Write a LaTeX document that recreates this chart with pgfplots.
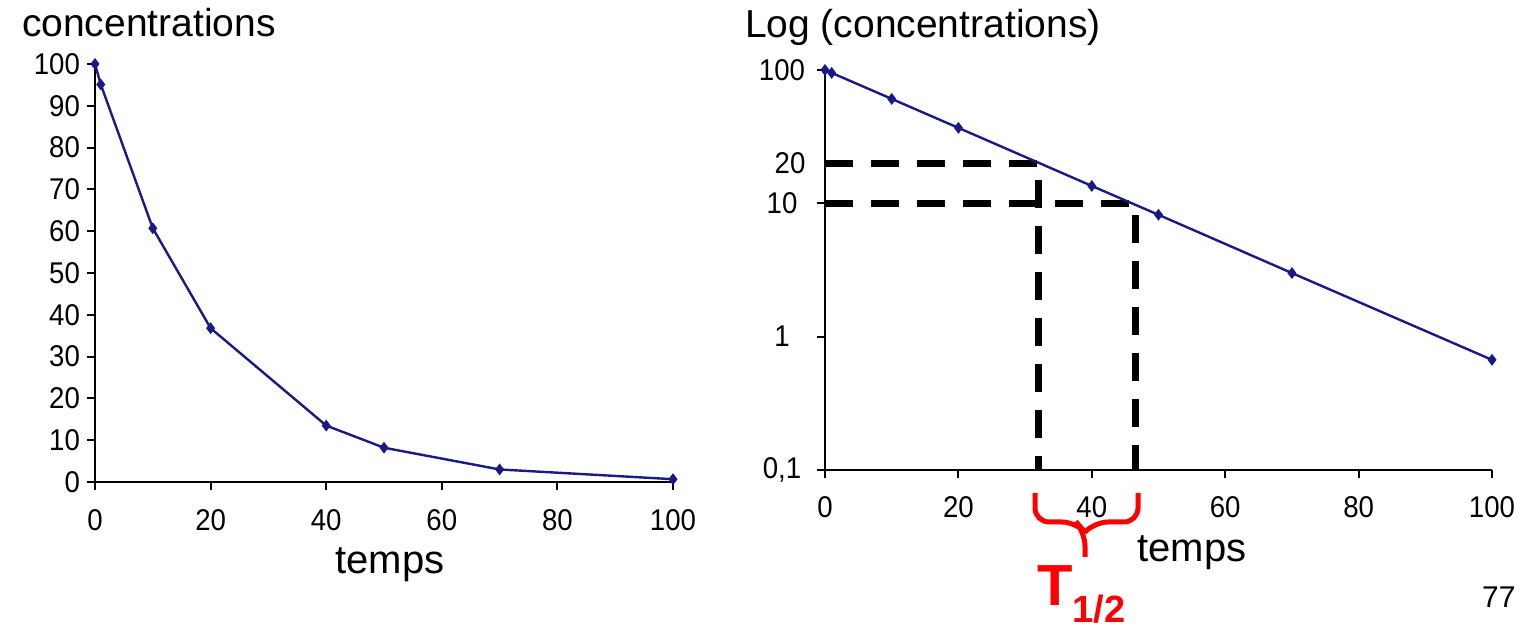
\documentclass[border=0pt]{standalone}
\usepackage{fontspec}
\setmainfont{Liberation Sans}
\newfontfamily\narrowfont[FakeStretch=0.92]{Liberation Sans}
\usepackage{pgfplots}
\pgfplotsset{compat=1.18}
\definecolor{navy}{RGB}{25,25,135}

\pgfplotsset{
  conc/.style={
    scale only axis, axis lines*=left,
    axis line style={line width=1pt},
    xmin=0, xmax=100, xtick={0,20,...,100},
    tick style={black, line width=1pt}, major tick length=4pt,
    tick align=outside,
    ticklabel style={font=\narrowfont\fontsize{15}{15}\selectfont},
    xticklabel style={yshift=-6pt},
    /pgf/number format/assume math mode=true,
    clip=false,
  },
  decay/.style={navy, line width=1.2pt, mark=diamond*, mark size=2pt},
}

\begin{document}
\begin{tikzpicture}
% left: linear scale
\begin{axis}[conc, at={(47.5pt,74pt)}, anchor=south west,
  width=289pt, height=209pt,
  ymin=0, ymax=100, ytick={0,10,...,100}]
\addplot[decay] coordinates {(0,100) (1,95.1) (10,60.7) (20,36.8) (40,13.5) (50,8.2) (70,3.0) (100,0.67)};
\end{axis}

% right: log scale
\begin{axis}[conc, at={(412.5pt,80pt)}, anchor=south west,
  width=333.5pt, height=200pt,
  ymode=log, ymin=0.1, ymax=100,
  ytick={0.1,1,10,100}, yticklabels={{0,1},1,10,100},
  extra y ticks={20}, extra y tick labels={20},
  extra y tick style={major tick length=0pt},
  minor tick length=0pt, minor y tick style={draw=none},
  yticklabel style={anchor=center, xshift=-17.5pt}]
\addplot[black, line width=3.5pt, dash pattern=on 14pt off 9pt] coordinates {(0,20) (32,20) (32,0.1)};
\addplot[black, line width=3.5pt, dash pattern=on 14pt off 9pt] coordinates {(0,10) (46.5,10) (46.5,0.1)};
\addplot[decay] coordinates {(0,100) (1,95.1) (10,60.7) (20,36.8) (40,13.5) (50,8.2) (70,3.0) (100,0.67)};
\end{axis}

% titles and labels
\node[anchor=base west, font=\fontsize{19.5}{20}\selectfont] at (7.5pt,296.75pt) {concentrations};
\node[anchor=base west, font=\fontsize{19.5}{20}\selectfont] at (369pt,296pt) {Log (concentrations)};
\node[anchor=base, font=\fontsize{20}{20}\selectfont] at (195pt,28pt) {temps};
\node[anchor=base, font=\fontsize{20}{20}\selectfont] at (596pt,34pt) {temps};

% half-life brace and label
\draw[red, line width=2.5pt, rounded corners=7pt] (517.5pt,68.5pt) -- (517.5pt,54pt) -- (538pt,54pt) -- (542.5pt,49pt) -- (542.5pt,36.5pt);
\draw[red, line width=2.5pt, rounded corners=7pt] (569pt,68.5pt) -- (569pt,54pt) -- (547pt,54pt) -- (542.5pt,49pt);
\node[anchor=base west, red, inner sep=0pt, font=\bfseries\fontsize{29}{29}\selectfont] at (518.5pt,12pt) {T\raisebox{-8.5pt}{\bfseries\fontsize{19}{19}\selectfont 1/2}};
\node[anchor=base east, inner sep=0pt, font=\fontsize{15}{15}\selectfont] at (758pt,11pt) {77};

\pgfresetboundingbox
\useasboundingbox (0,0) rectangle (765.5pt,315pt);
\end{tikzpicture}
\end{document}
